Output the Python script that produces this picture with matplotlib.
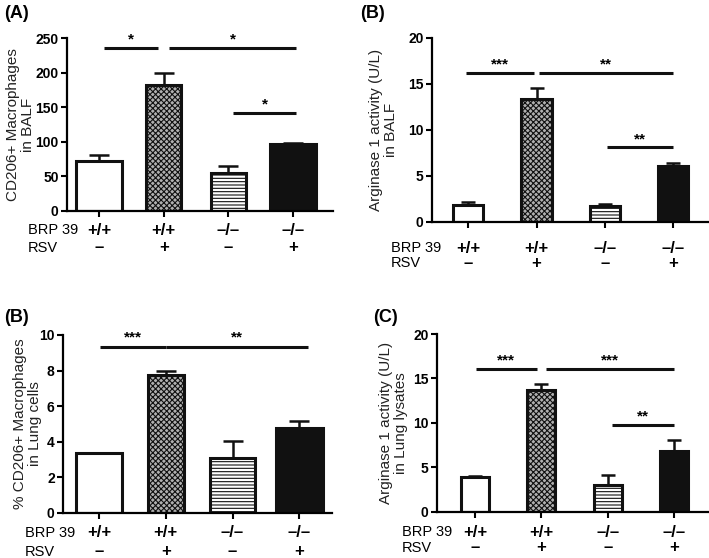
import numpy as np
import matplotlib
matplotlib.use("Agg")
import matplotlib.pyplot as plt

plt.rcParams['font.family'] = ['Liberation Sans', 'DejaVu Sans']
plt.rcParams['hatch.linewidth'] = 0.8

# groups
brp39 = ['+/+', '+/+', '\u2013/\u2013', '\u2013/\u2013']
rsv = ['\u2013', '+', '\u2013', '+']

# panel values (mean, sem)
balf_cd206 = [72.7, 181.6, 55.4, 96.8]
balf_cd206_err = [8.7, 18.3, 9.1, 1.0]
balf_arg1 = [1.81, 13.4, 1.70, 6.05]
balf_arg1_err = [0.29, 1.2, 0.22, 0.35]
lung_cd206 = [3.38, 7.75, 3.06, 4.75]
lung_cd206_err = [0.0, 0.22, 0.95, 0.43]
lung_arg1 = [3.87, 13.73, 2.96, 6.87]
lung_arg1_err = [0.11, 0.6, 1.13, 1.2]

# significance brackets: (from bar, to bar, height, label)
sig_a = [(0, 1, 235.5, '*'), (1, 3, 235.5, '*'), (2, 3, 141.6, '*')]
sig_b = [(0, 1, 16.2, '***'), (1, 3, 16.2, '**'), (2, 3, 8.08, '**')]
sig_b2 = [(0, 1, 9.32, '***'), (1, 3, 9.32, '**')]
sig_c = [(0, 1, 16.06, '***'), (1, 3, 16.06, '***'), (2, 3, 9.76, '**')]

W, H = 709, 558
fig = plt.figure(figsize=(W / 100, H / 100), dpi=100)


def px_axes(x0, y0, x1, y1):
    return fig.add_axes([x0 / W, 1 - y1 / H, (x1 - x0) / W, (y1 - y0) / H])


def panel(rect, vals, errs, widths, xlim, ymax, ystep, ylabel, label_x, sigs,
          letter, letter_xy, cap, gap, row_off, name_x, star_off):
    ax = px_axes(*rect)
    x = np.arange(4)
    faces = ['white', '#b0b0b0', 'white', '#111111']
    hatches = [None, 'xxxxxx', '-----', None]
    for i in range(4):
        ax.bar(x[i], vals[i], width=widths[i], color=faces[i], edgecolor='#111111',
               linewidth=2.2, hatch=hatches[i], zorder=2)
        if errs[i] > 0:
            ax.errorbar(x[i], vals[i], yerr=[[0], [errs[i]]], fmt='none',
                        ecolor='#111111', elinewidth=1.8, capsize=cap, capthick=1.8,
                        zorder=1)
    ax.set_xlim(*xlim)
    ax.set_ylim(0, ymax)
    ax.set_yticks(np.arange(0, ymax + ystep / 2, ystep))
    ax.set_xticks(x)
    ax.set_xticklabels([])
    ax.tick_params(axis='both', width=1.5, length=4, labelsize=10, pad=2)
    for lab in ax.get_yticklabels():
        lab.set_fontweight('bold')
    for s in ['top', 'right']:
        ax.spines[s].set_visible(False)
    for s in ['left', 'bottom']:
        ax.spines[s].set_linewidth(1.6)
    # y label placed by its right edge, in pixels left of the axis
    ax.set_ylabel(ylabel, fontsize=11, color='#222222', linespacing=1.05)
    ax.yaxis.set_label_coords(label_x / (rect[2] - rect[0]), 0.5)
    for a, b, h, lab in sigs:
        xa = a + gap[0] if a == 0 else a + gap[1]
        xb = b - gap[1] if b == 1 else b - gap[2]
        ax.plot([xa, xb], [h, h], color='#111111', lw=2.2, clip_on=False,
                solid_capstyle='butt')
        ax.annotate(lab, xy=((xa + xb) / 2, h), xytext=(0, star_off),
                    textcoords='offset points', ha='center', va='bottom',
                    fontsize=11, fontweight='bold', annotation_clip=False)
    for i in range(4):
        ax.annotate(brp39[i], xy=(x[i], 0), xycoords=('data', 'axes fraction'),
                    xytext=(0, -row_off[0]), textcoords='offset points',
                    ha='center', va='center', fontsize=12, fontweight='bold')
        ax.annotate(rsv[i], xy=(x[i], 0), xycoords=('data', 'axes fraction'),
                    xytext=(0, -row_off[1]), textcoords='offset points',
                    ha='center', va='center', fontsize=12, fontweight='bold')
    fig.text(name_x / W, 1 - (rect[3] + row_off[0] / 0.72) / H, 'BRP 39',
             ha='left', va='center', fontsize=10.5)
    fig.text(name_x / W, 1 - (rect[3] + row_off[1] / 0.72) / H, 'RSV',
             ha='left', va='center', fontsize=10.5)
    fig.text(letter_xy[0] / W, 1 - letter_xy[1] / H, letter, ha='left',
             va='center', fontsize=13, fontweight='bold')
    return ax


ax1 = panel((67, 38, 333, 211), balf_cd206, balf_cd206_err,
            [0.7, 0.54, 0.54, 0.7], (-0.495, 3.62), 250, 50,
            'CD206+ Macrophages\nin BALF', -32, sig_a, '(A)', (4, 13), 7,
            (0.08, 0.08, -0.05), (13.7, 26.6), 28, 1)

ax2 = panel((432, 38, 708, 221.7), balf_arg1, balf_arg1_err,
            [0.44] * 4, (-0.53, 3.51), 20, 5,
            'Arginase 1 activity (U/L)\nin BALF', -34, sig_b, '(B)', (360, 13), 5,
            (-0.03, 0.03, 0.0), (19, 30), 391, 1)

ax3 = panel((63, 335, 332, 512.7), lung_cd206, lung_cd206_err,
            [0.69, 0.54, 0.67, 0.7], (-0.54, 3.49), 10, 2,
            '% CD206+ Macrophages\nin Lung cells', -21, sig_b2, '(B)', (4, 317), 7,
            (0.02, 0.0, -0.13), (14.4, 28), 25, 2)

ax4 = panel((437, 334, 708, 511.7), lung_arg1, lung_arg1_err,
            [0.42] * 4, (-0.57, 3.51), 20, 5,
            'Arginase 1 activity (U/L)\nin Lung lysates', -29, sig_c, '(C)', (373, 318), 5,
            (0.02, 0.07, 0.0), (14.8, 26), 402, 1)

fig.savefig('out.png', dpi=100)
